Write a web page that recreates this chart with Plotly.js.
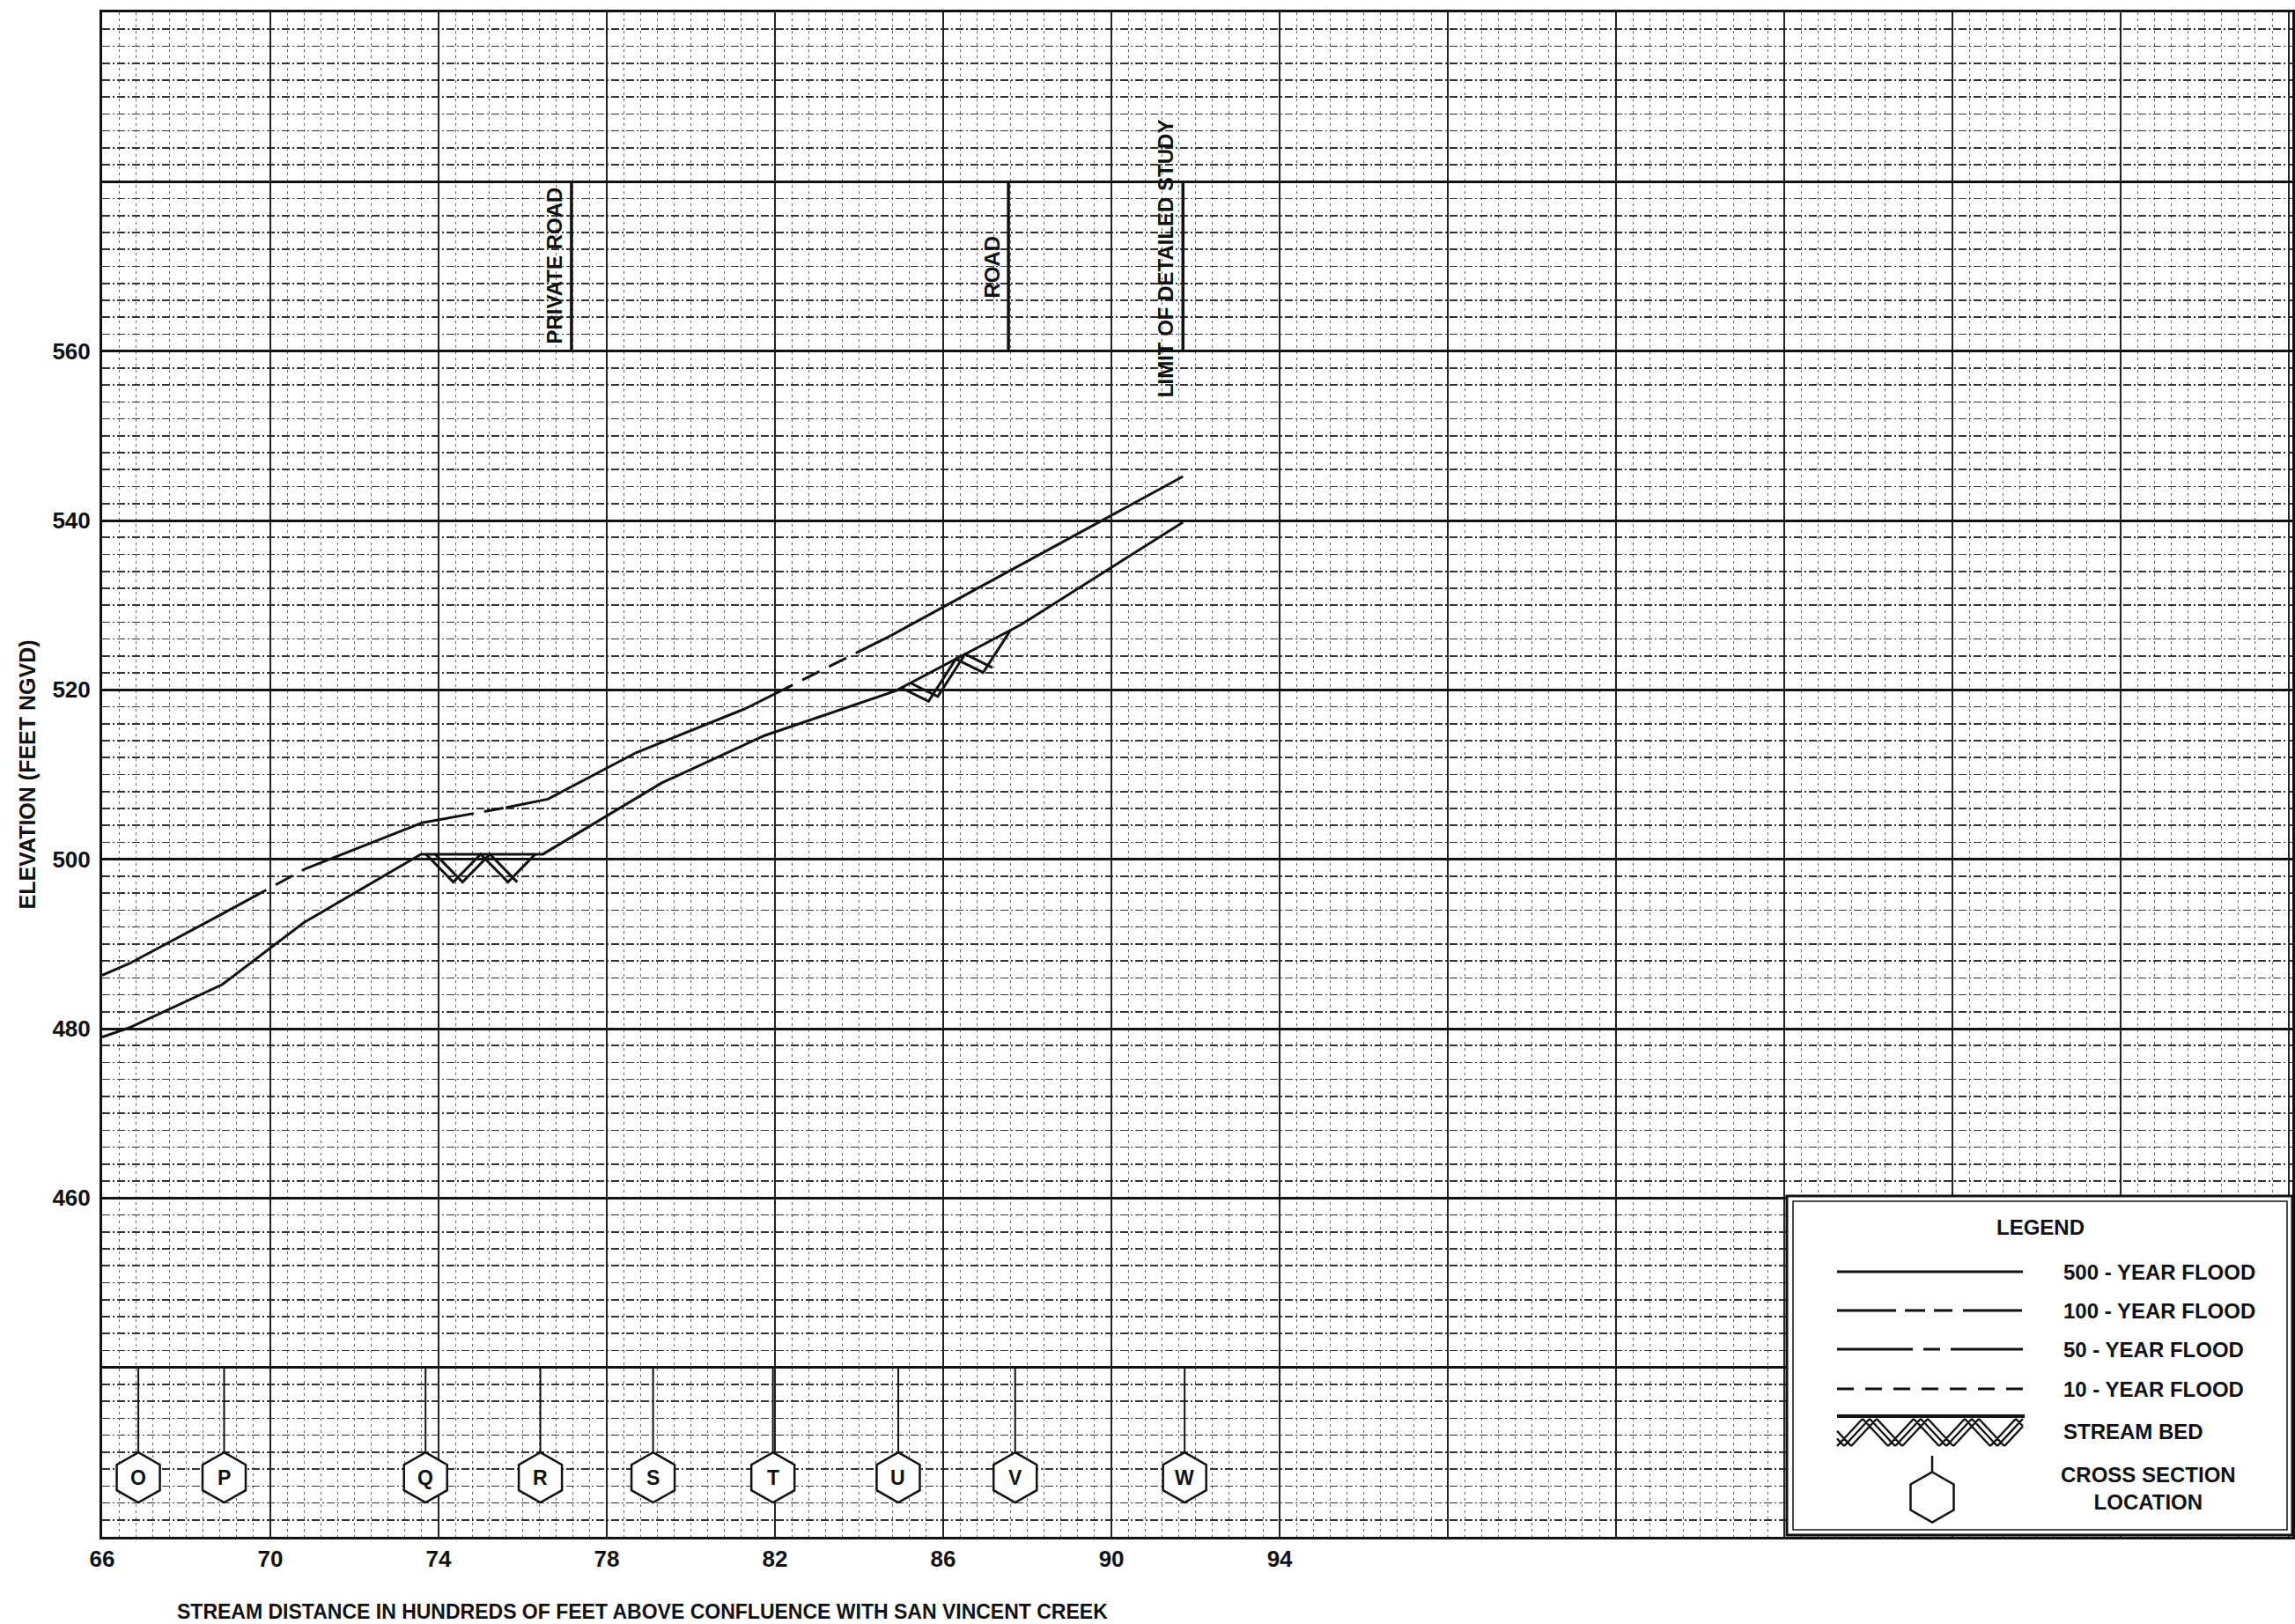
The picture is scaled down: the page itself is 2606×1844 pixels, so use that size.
<!DOCTYPE html>
<html><head><meta charset="utf-8">
<script src="https://cdn.plot.ly/plotly-3.0.1.min.js"></script>
<style>html,body{margin:0;padding:0;background:#fff}#chart{width:2606px;height:1844px}</style>
</head><body><div id="chart"></div>
<script>
// ---------------- DATA ----------------
const upperX = [66.0, 66.65, 68.8, 70.8, 73.6, 75.6, 76.6, 78.7, 81.3, 84.75, 91.7];
const upperY = [486.3, 487.7, 493.4, 498.8, 504.3, 506.1, 507.1, 512.6, 517.8, 526.4, 545.2];
const upperStyle = ['s','s','d','s','d','s','s','s','d','s'];   // per segment: s = 500-yr solid, d = 100-yr dashed
const bedX = [66.0, 66.64, 68.85, 70.79, 73.58, 76.48, 79.3, 81.75, 84.87, 87.85, 91.7];
const bedY = [479.0, 480.1, 485.2, 492.5, 500.6, 500.6, 509.0, 514.6, 519.9, 527.7, 539.8];
const hatchStart = [73.7, 85.0];
const hatchEnd = [76.35, 87.6];
const xsLetters = ['O','P','Q','R','S','T','U','V','W'];
const xsX = [66.86, 68.9, 73.69, 76.42, 79.1, 81.95, 84.93, 87.71, 91.74];
const roadX = [77.16, 87.55, 91.70];
const roadLabels = ['PRIVATE ROAD', 'ROAD', 'LIMIT OF DETAILED STUDY'];
const roadLabelY = [570.1, 569.9, 571.0];
const roadBottom = 560, roadTop = 580;
const xTickVals = [66,70,74,78,82,86,90,94,98,102,106,110,114,118];
const xTickText = ['66','70','74','78','82','86','90','94','','','','','',''];
const yTickVals = [420,440,460,480,500,520,540,560,580,600];
const yTickText = ['','','460','480','500','520','540','560','',''];
const legendLabels = ['500 - YEAR FLOOD','100 - YEAR FLOOD','50 - YEAR FLOOD','10 - YEAR FLOOD','STREAM BED','CROSS SECTION<br>LOCATION'];
const legendDashes = ['solid','67px,10px,23px,10px,21px,12px','86px,12px,19px,12px','19px,13px'];
const xTitle = 'STREAM DISTANCE IN HUNDREDS OF FEET ABOVE CONFLUENCE WITH SAN VINCENT CREEK';
const yTitle = 'ELEVATION (FEET NGVD)';

// ---------------- GEOMETRY ----------------
const W = 2606, H = 1844, mL = 116, mR = 3, mT = 14, mB = 99;
const pw = W - mL - mR, ph = H - mT - mB;
const X0 = 66, X1 = 118.08, Y0 = 420, Y1 = 600;
const px = X => (X - mL) / pw;
const py = Y => (H - mB - Y) / ph;
const dataPerPxY = (Y1 - Y0) / ph;
const FONT = 'Liberation Sans, Arial, Helvetica, sans-serif';
const BLK = '#111';
const b = t => '<b>' + t.split('<br>').join('</b><br><b>') + '</b>';

function bedAt(x) {
  for (let i = 0; i < bedX.length - 1; i++) {
    if (x >= bedX[i] && x <= bedX[i + 1]) {
      const t = (x - bedX[i]) / (bedX[i + 1] - bedX[i]);
      return bedY[i] + t * (bedY[i + 1] - bedY[i]);
    }
  }
  return bedY[bedY.length - 1];
}

const traces = [];
(function () {
  let cur = null;
  const runs = [];
  for (let i = 0; i < upperStyle.length; i++) {
    if (!cur || cur.s !== upperStyle[i]) {
      cur = { s: upperStyle[i], x: [upperX[i]], y: [upperY[i]] };
      runs.push(cur);
    }
    cur.x.push(upperX[i + 1]); cur.y.push(upperY[i + 1]);
  }
  runs.forEach(r => traces.push({
    type: 'scatter', mode: 'lines', x: r.x, y: r.y, showlegend: false, hoverinfo: 'skip',
    line: { color: BLK, width: 3, dash: r.s === 'd' ? '60px,12px,22px,12px,22px,12px' : 'solid' }
  }));
})();
traces.push({ type: 'scatter', mode: 'lines', x: bedX, y: bedY, showlegend: false, hoverinfo: 'skip',
  line: { color: BLK, width: 3 } });

// stream bed hatching (decoration following the bed line)
(function () {
  const period = 1.3, depth = 3.3, off = 0.22;
  for (let h = 0; h < hatchStart.length; h++) {
    const hx = [], hy = [];
    for (const o of [0, off]) {
      let x = hatchStart[h] + o;
      let down = true;
      hx.push(x); hy.push(bedAt(x));
      while (x + period / 2 <= hatchEnd[h] + 0.01) {
        x += period / 2;
        hx.push(x); hy.push(down ? bedAt(x) - depth : bedAt(x));
        down = !down;
      }
      hx.push(null); hy.push(null);
    }
    traces.push({ type: 'scatter', mode: 'lines', x: hx, y: hy, showlegend: false, hoverinfo: 'skip',
      line: { color: BLK, width: 3 } });
  }
})();

// ---------------- SHAPES & ANNOTATIONS ----------------
const shapes = [];
const annotations = [];
const hexPath = 'M0,28.5 L24.5,14.5 L24.5,-14.5 L0,-28.5 L-24.5,-14.5 L-24.5,14.5 Z';
const hexCY = 427.0;
const hexHalf = 28.5 * dataPerPxY;

xsX.forEach((x, i) => {
  shapes.push({ type: 'line', xref: 'x', yref: 'y', x0: x, x1: x, y0: 440, y1: hexCY + hexHalf,
    line: { color: BLK, width: 2 } });
  shapes.push({ type: 'path', xref: 'x', yref: 'y', xsizemode: 'pixel', ysizemode: 'pixel',
    xanchor: x, yanchor: hexCY, path: hexPath, fillcolor: 'white', line: { color: BLK, width: 2.5 } });
  annotations.push({ x: x, y: hexCY, xref: 'x', yref: 'y', text: b(xsLetters[i]), showarrow: false,
    font: { family: FONT, size: 23, color: BLK } });
});

roadX.forEach((x, i) => {
  shapes.push({ type: 'line', xref: 'x', yref: 'y', x0: x, x1: x, y0: roadBottom, y1: roadTop,
    line: { color: BLK, width: 3.5 } });
  annotations.push({ x: x, y: roadLabelY[i], xref: 'x', yref: 'y', text: b(roadLabels[i]), textangle: -90,
    showarrow: false, xanchor: 'center', yanchor: 'middle', xshift: -19,
    font: { family: FONT, size: 24, color: BLK } });
});

// axis titles
annotations.push({ xref: 'paper', yref: 'paper', x: 0, y: 0.5, xshift: -(mL - 30), text: b(yTitle), textangle: -90,
  showarrow: false, xanchor: 'center', yanchor: 'middle', font: { family: FONT, size: 25, color: BLK } });
annotations.push({ xref: 'paper', yref: 'paper', x: px(199), y: 0, yshift: -85, text: b(xTitle),
  showarrow: false, xanchor: 'left', yanchor: 'middle', font: { family: FONT, size: 23, color: BLK } });

// legend box
shapes.push({ type: 'rect', xref: 'paper', yref: 'paper', x0: px(2029), x1: px(2603), y0: py(1743), y1: py(1358),
  fillcolor: 'white', line: { color: BLK, width: 3 }, layer: 'above' });
shapes.push({ type: 'rect', xref: 'paper', yref: 'paper', x0: px(2036), x1: px(2597), y0: py(1737), y1: py(1364),
  line: { color: BLK, width: 1.5 }, layer: 'above' });
annotations.push({ xref: 'paper', yref: 'paper', x: px(2317), y: py(1393), text: b('LEGEND'), showarrow: false,
  xanchor: 'center', yanchor: 'middle', font: { family: FONT, size: 24, color: BLK } });
const rowY = [1444, 1488, 1532, 1577, 1625, 1690];
const sx0 = 2086, sx1 = 2297;
legendDashes.forEach((d, i) => {
  shapes.push({ type: 'line', xref: 'paper', yref: 'paper', x0: px(sx0), x1: px(sx1), y0: py(rowY[i]), y1: py(rowY[i]),
    line: { color: BLK, width: 3, dash: d }, layer: 'above' });
});
legendLabels.forEach((t, i) => {
  if (i < 5) {
    annotations.push({ xref: 'paper', yref: 'paper', x: px(2341), y: py(rowY[i]), text: b(t), showarrow: false,
      xanchor: 'left', yanchor: 'middle', font: { family: FONT, size: 24, color: BLK } });
  } else {
    annotations.push({ xref: 'paper', yref: 'paper', x: px(2439), y: py(rowY[i]), text: b(t), showarrow: false,
      xanchor: 'center', yanchor: 'middle', align: 'center', font: { family: FONT, size: 24, color: BLK } });
  }
});
// legend stream bed sample
(function () {
  const top = 1608, bot = 1642, per = 58, off = 8;
  shapes.push({ type: 'path', xref: 'paper', yref: 'paper',
    path: `M${px(sx0)},${py(top)} L${px(sx1 + 2)},${py(top)}`, line: { color: BLK, width: 4 }, layer: 'above' });
  let z = '';
  for (const o of [0, off, 2 * off]) {
    let x = sx0 + o - per / 2;
    let down = false;
    while (x <= sx1 - 2) {
      const nx = x + per / 2;
      const y1 = down ? top + 3 : bot, y0 = down ? bot : top + 3;
      let ax = x, ay = y0, bx = nx, by = y1;
      if (ax < sx0) { const t = (sx0 - ax) / (bx - ax); ay = ay + t * (by - ay); ax = sx0; }
      if (bx > sx1) { const t = (sx1 - ax) / (bx - ax); by = ay + t * (by - ay); bx = sx1; }
      z += `M${px(ax)},${py(ay)} L${px(bx)},${py(by)} `;
      x = nx; down = !down;
    }
  }
  shapes.push({ type: 'path', xref: 'paper', yref: 'paper', path: z, line: { color: BLK, width: 2.4 }, layer: 'above' });
})();
// legend cross section symbol
shapes.push({ type: 'line', xref: 'paper', yref: 'paper', x0: px(2194), x1: px(2194), y0: py(1653), y1: py(1672),
  line: { color: BLK, width: 2.5 }, layer: 'above' });
shapes.push({ type: 'path', xref: 'paper', yref: 'paper', xsizemode: 'pixel', ysizemode: 'pixel',
  xanchor: px(2194), yanchor: py(1700), path: hexPath, line: { color: BLK, width: 2.5 }, layer: 'above' });

// ---------------- LAYOUT ----------------
const layout = {
  width: W, height: H,
  margin: { l: mL, r: mR, t: mT, b: mB, pad: 0 },
  paper_bgcolor: 'white', plot_bgcolor: 'white',
  showlegend: false,
  font: { family: FONT, color: BLK },
  xaxis: {
    range: [X0, X1], tickmode: 'array', tickvals: xTickVals, ticktext: xTickText.map(t => t ? b(t) : ''),
    showgrid: true, gridcolor: '#222', gridwidth: 1.6, zeroline: false,
    showline: true, linecolor: BLK, linewidth: 3, mirror: true, ticks: '',
    ticklabelstandoff: 0,
    tickfont: { family: FONT, size: 26, color: BLK },
    minor: { tick0: 66, dtick: 0.4, showgrid: true, gridcolor: '#666', gridwidth: 1, griddash: '3px,4px', ticks: '' }
  },
  yaxis: {
    range: [Y0, Y1], tickmode: 'array', tickvals: yTickVals, ticktext: yTickText.map(t => t ? b(t) : ''),
    showgrid: true, gridcolor: BLK, gridwidth: 3, zeroline: false,
    showline: true, linecolor: BLK, linewidth: 3, mirror: true, ticks: '',
    ticklabelstandoff: 5,
    tickfont: { family: FONT, size: 26, color: BLK },
    minor: { tick0: 420, dtick: 2, showgrid: true, gridcolor: '#333', gridwidth: 1.6, griddash: '9px,3px,2px,3px', ticks: '' }
  },
  shapes: shapes,
  annotations: annotations
};

Plotly.newPlot('chart', traces, layout, { staticPlot: true, displayModeBar: false });
</script>
</body></html>
